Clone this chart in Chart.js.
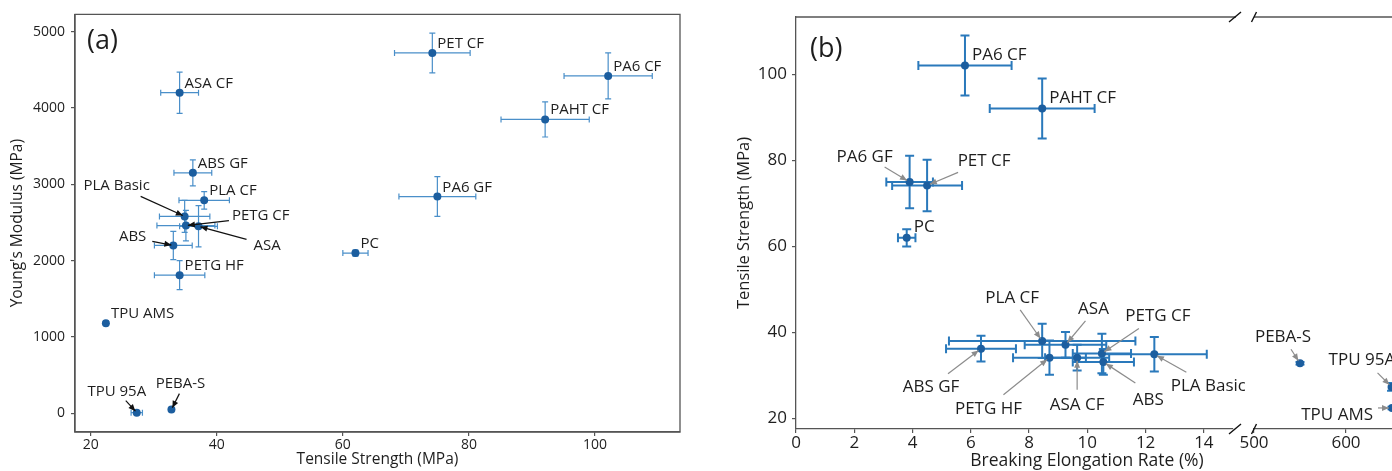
<!DOCTYPE html>
<html>
<head>
<meta charset="utf-8">
<script src="https://cdn.jsdelivr.net/npm/chart.js@4.4.1/dist/chart.umd.min.js"></script>
<style>
  html, body { margin: 0; padding: 0; background: #fff; overflow: hidden; }
  #wrap { position: relative; width: 1392px; height: 471px; overflow: hidden; }
  canvas { position: absolute; top: 0; }
</style>
</head>
<body>
<div id="wrap">
  <canvas id="chartA" width="715" height="471" style="left:0"></canvas>
  <canvas id="chartB1" width="530" height="471" style="left:715px"></canvas>
  <canvas id="chartB2" width="155" height="471" style="left:1237px"></canvas>
</div>
<script>
// values
const materials = ['PA6 CF', 'PAHT CF', 'PET CF', 'PA6 GF', 'PC', 'ASA CF', 'ABS GF', 'PLA CF',
                   'PLA Basic', 'PETG CF', 'ASA', 'ABS', 'PETG HF', 'TPU AMS', 'TPU 95A', 'PEBA-S'];
const tensile       = [102.1, 92.1, 74.2, 75.0, 62.0, 34.1, 36.2, 38.0, 34.9, 35.1, 37.1, 33.1, 34.1, 22.4, 27.3, 32.8];
const tensileErr    = [7.0, 7.0, 6.0, 6.1, 2.0, 3.0, 3.0, 4.0, 4.0, 4.6, 3.0, 3.0, 4.0, 0.3, 0.9, 0.3];
const modulus       = [4420, 3850, 4720, 2840, 2100, 4200, 3150, 2790, 2580, 2460, 2450, 2200, 1810, 1180, 10, 50];
const modulusErr    = [300, 230, 260, 260, 40, 270, 170, 115, 210, 200, 270, 185, 190, 20, 10, 10];
const elongation    = [5.8, 8.45, 4.5, 3.9, 3.8, 9.65, 6.35, 8.45, 12.3, 10.5, 9.25, 10.55, 8.7, 650, 649.5, 550];
const elongationErr = [1.6, 1.8, 1.2, 0.8, 0.3, 1.1, 1.2, 3.2, 1.8, 1.0, 1.4, 1.05, 1.25, 0, 0, 0];

const tensileTicks  = [20, 40, 60, 80, 100];
const modulusTicks  = [0, 1000, 2000, 3000, 4000, 5000];
const elongTicksLow = [0, 2, 4, 6, 8, 10, 12, 14];
const elongTicksHigh = [500, 600];

const FONT = '"Open Sans", "DejaVu Sans", sans-serif';
const pointColor = '#1c5e9f';
const axisColor = '#555';
const textColor = '#1e1e1e';

// label placement (pixel offsets from the marker), default goes up-right
const placeA = {
  'PLA Basic': { dx: -68, dy: -26, align: 'center', ax: -44, ay: -20 },
  'PETG CF':   { dx: 46, dy: -6, align: 'left', ax: 43, ay: -5 },
  'ASA':       { dx: 55, dy: 24, align: 'left', ax: 48, ay: 13 },
  'ABS':       { dx: -27, dy: -4, align: 'right', ax: -21, ay: -4 },
  'TPU 95A':   { dx: -20, dy: -17, align: 'center', ax: -11, ay: -12 },
  'PEBA-S':    { dx: 9, dy: -22, align: 'center', ax: 8, ay: -16 }
};
const placeB = {
  'PA6 GF':    { dx: -45, dy: -20, align: 'center', ax: -25, ay: -15 },
  'PET CF':    { dx: 57, dy: -19, align: 'center', ax: 31, ay: -13 },
  'PLA CF':    { dx: -30, dy: -38, align: 'center', ax: -22, ay: -31 },
  'ABS GF':    { dx: -50, dy: 43, align: 'center', ax: -33, ay: 25 },
  'PETG HF':   { dx: -61, dy: 56, align: 'center', ax: -46, ay: 37 },
  'ASA':       { dx: 28, dy: -31, align: 'center', ax: 20, ay: -24 },
  'PETG CF':   { dx: 56, dy: -32, align: 'center', ax: 37, ay: -25 },
  'ASA CF':    { dx: 0, dy: 52, align: 'center', ax: 0, ay: 32 },
  'ABS':       { dx: 45, dy: 43, align: 'center', ax: 32, ay: 21 },
  'PLA Basic': { dx: 54, dy: 37, align: 'center', ax: 32, ay: 18 },
  'PEBA-S':    { dx: -17, dy: -21, align: 'center', ax: -9, ay: -14 },
  'TPU 95A':   { dx: -63, dy: -22, align: 'left', ax: -14, ay: -14 },
  'TPU AMS':   { dx: -19, dy: 12, align: 'right', ax: -14, ay: 0 }
};

function fixedTicks(values) {
  return scale => { scale.ticks = values.map(v => ({ value: v })); };
}

// error bars + labels + arrows for a subset of materials
function markPlugin(idx, xs, ys, xErr, yErr, opt) {
  return {
    id: 'marks',
    beforeDatasetsDraw(chart) {
      const { ctx, scales: { x, y } } = chart;
      ctx.save();
      ctx.strokeStyle = opt.barColor;
      ctx.lineWidth = opt.barWidth;
      idx.forEach(i => {
        const px = x.getPixelForValue(xs[i]), py = y.getPixelForValue(ys[i]);
        const c = opt.cap;
        if (xErr[i] > 0) {
          const l = x.getPixelForValue(xs[i] - xErr[i]), r = x.getPixelForValue(xs[i] + xErr[i]);
          ctx.beginPath();
          ctx.moveTo(l, py); ctx.lineTo(r, py);
          ctx.moveTo(l, py - c); ctx.lineTo(l, py + c);
          ctx.moveTo(r, py - c); ctx.lineTo(r, py + c);
          ctx.stroke();
        }
        if (yErr[i] > 0) {
          const t = y.getPixelForValue(ys[i] + yErr[i]), b = y.getPixelForValue(ys[i] - yErr[i]);
          ctx.beginPath();
          ctx.moveTo(px, t); ctx.lineTo(px, b);
          ctx.moveTo(px - c, t); ctx.lineTo(px + c, t);
          ctx.moveTo(px - c, b); ctx.lineTo(px + c, b);
          ctx.stroke();
        }
      });
      ctx.restore();
    },
    afterDatasetsDraw(chart) {
      const { ctx, scales: { x, y } } = chart;
      ctx.save();
      ctx.font = opt.labelSize + 'px ' + FONT;
      ctx.fillStyle = textColor;
      ctx.textBaseline = 'alphabetic';
      idx.forEach(i => {
        const px = x.getPixelForValue(xs[i]), py = y.getPixelForValue(ys[i]);
        const p = opt.place[materials[i]] || opt.def;
        ctx.textAlign = p.align;
        ctx.fillText(materials[i], px + p.dx, py + p.dy);
        if (p.ax !== undefined) {
          const tx = px + p.ax, ty = py + p.ay;
          const ang = Math.atan2(py - ty, px - tx);
          const hx = px - Math.cos(ang) * opt.shrink, hy = py - Math.sin(ang) * opt.shrink;
          ctx.strokeStyle = opt.arrowColor;
          ctx.fillStyle = opt.arrowColor;
          ctx.lineWidth = 1.2;
          ctx.beginPath(); ctx.moveTo(tx, ty); ctx.lineTo(hx, hy); ctx.stroke();
          const L = 7, W = 3;
          ctx.beginPath();
          ctx.moveTo(hx, hy);
          ctx.lineTo(hx - L * Math.cos(ang) + W * Math.sin(ang), hy - L * Math.sin(ang) - W * Math.cos(ang));
          ctx.lineTo(hx - L * Math.cos(ang) - W * Math.sin(ang), hy - L * Math.sin(ang) + W * Math.cos(ang));
          ctx.closePath(); ctx.fill();
          ctx.fillStyle = textColor;
        }
      });
      ctx.restore();
    }
  };
}

// spines / break marks / panel letter / extra text
function framePlugin(opt) {
  return {
    id: 'frame',
    afterDraw(chart) {
      const { ctx, chartArea: a } = chart;
      ctx.save();
      ctx.strokeStyle = axisColor;
      ctx.lineWidth = 1.3;
      ctx.beginPath();
      if (opt.box) ctx.rect(a.left, a.top, a.right - a.left, a.bottom - a.top);
      if (opt.top) { ctx.moveTo(a.left, a.top); ctx.lineTo(a.right + (opt.topExt || 0), a.top); }
      ctx.stroke();
      if (opt.breakAt) {
        const bx = opt.breakAt === 'right' ? a.right + 2 : a.left;
        const s = opt.slant;
        ctx.strokeStyle = '#111';
        ctx.lineWidth = 1.4;
        [a.top, a.bottom].forEach(by => {
          ctx.beginPath(); ctx.moveTo(bx - s, by + 5); ctx.lineTo(bx + s, by - 5); ctx.stroke();
        });
      }
      ctx.fillStyle = textColor;
      if (opt.letter) {
        ctx.font = '27px ' + FONT;
        ctx.textAlign = 'left';
        ctx.textBaseline = 'alphabetic';
        ctx.fillText(opt.letter, a.left + opt.letterDx, a.top + opt.letterDy);
      }
      if (opt.xTitle) {
        ctx.font = opt.xTitleSize + 'px ' + FONT;
        ctx.textAlign = 'center';
        ctx.textBaseline = 'middle';
        ctx.fillText(opt.xTitle, a.left + opt.xTitleDx, opt.xTitleY);
      }
      ctx.restore();
    }
  };
}

function axisStyle(size, pad) {
  return {
    grid: { drawOnChartArea: false, tickLength: 4, color: axisColor, lineWidth: 1.2 },
    border: { color: axisColor, width: 1.3 },
    ticks: { font: { family: FONT, size: size }, color: textColor, padding: pad, callback: v => String(v) }
  };
}

const baseOptions = {
  responsive: false,
  animation: false,
  events: [],
  plugins: { legend: { display: false }, tooltip: { enabled: false } }
};

function pointsOf(idx, xs, ys) {
  return [{
    data: idx.map(i => ({ x: xs[i], y: ys[i] })),
    backgroundColor: pointColor,
    borderColor: pointColor,
    pointRadius: 4,
    borderWidth: 0,
    clip: false
  }];
}

// ---- panel (a) ----
const allIdx = materials.map((m, i) => i);
new Chart(document.getElementById('chartA'), {
  type: 'scatter',
  data: { datasets: pointsOf(allIdx, tensile, modulus) },
  options: Object.assign({}, baseOptions, {
    layout: { padding: { top: 12, right: 35, left: 0, bottom: 0 } },
    scales: {
      x: Object.assign(axisStyle(14, 1), {
        type: 'linear', min: 17.5, max: 113.5,
        afterBuildTicks: fixedTicks(tensileTicks),
        afterFit: s => { s.height = 39; },
        title: { display: true, text: 'Tensile Strength (MPa)', color: textColor,
                 font: { family: FONT, size: 15.5 }, padding: { top: 0, bottom: 2 } }
      }),
      y: Object.assign(axisStyle(14, 6), {
        type: 'linear', min: -243, max: 5225,
        afterBuildTicks: fixedTicks(modulusTicks),
        afterFit: s => { s.width = 75; },
        title: { display: true, text: "Young's Modulus (MPa)", color: textColor,
                 font: { family: FONT, size: 15.5 }, padding: { top: 8, bottom: 0 } }
      })
    }
  }),
  plugins: [
    markPlugin(allIdx, tensile, modulus, tensileErr, modulusErr, {
      barColor: '#4a8fc9', barWidth: 1.2, cap: 3, labelSize: 15, place: placeA,
      def: { dx: 5, dy: -5, align: 'left' }, arrowColor: '#111', shrink: 2
    }),
    framePlugin({ box: true, letter: '(a)', letterDx: 12, letterDy: 35 })
  ]
});

// ---- panel (b), broken x axis: two charts sharing the y range ----
const lowIdx = allIdx.filter(i => elongation[i] < 100);
const highIdx = allIdx.filter(i => elongation[i] >= 100);
const placeBOpt = {
  barColor: '#2a79bb', barWidth: 2, cap: 4.5, labelSize: 17, place: placeB,
  def: { dx: 7, dy: -6, align: 'left' }, arrowColor: '#8c8c8c', shrink: 3
};

new Chart(document.getElementById('chartB1'), {
  type: 'scatter',
  data: { datasets: pointsOf(lowIdx, elongation, tensile) },
  options: Object.assign({}, baseOptions, {
    layout: { padding: { top: 17, right: 12, left: 0, bottom: 0 } },
    scales: {
      x: Object.assign(axisStyle(17, 0), {
        type: 'linear', min: 0, max: 15,
        afterBuildTicks: fixedTicks(elongTicksLow),
        afterFit: s => { s.height = 42; }
      }),
      y: Object.assign(axisStyle(17, 5), {
        type: 'linear', min: 17.5, max: 113.4,
        afterBuildTicks: fixedTicks(tensileTicks),
        afterFit: s => { s.width = 81; },
        title: { display: true, text: 'Tensile Strength (MPa)', color: textColor,
                 font: { family: FONT, size: 16.5 }, padding: { top: 19, bottom: 0 } }
      })
    }
  }),
  plugins: [
    markPlugin(lowIdx, elongation, tensile, elongationErr, tensileErr, placeBOpt),
    framePlugin({ top: true, topExt: 3, breakAt: 'right', slant: 6, letter: '(b)', letterDx: 14, letterDy: 40,
                  xTitle: 'Breaking Elongation Rate (%)', xTitleSize: 17.5, xTitleDx: 291, xTitleY: 461 })
  ]
});

new Chart(document.getElementById('chartB2'), {
  type: 'scatter',
  data: { datasets: pointsOf(highIdx, elongation, tensile) },
  options: Object.assign({}, baseOptions, {
    layout: { autoPadding: false, padding: { top: 17, right: 0, left: 17, bottom: 0 } },
    scales: {
      x: Object.assign(axisStyle(17, 0), {
        type: 'linear', min: 500, max: 650,
        afterBuildTicks: fixedTicks(elongTicksHigh),
        afterFit: s => { s.height = 42; }
      }),
      y: { type: 'linear', display: false, min: 17.5, max: 113.4 }
    }
  }),
  plugins: [
    markPlugin(highIdx, elongation, tensile, elongationErr, tensileErr, placeBOpt),
    framePlugin({ top: true, breakAt: 'left', slant: 2.5 })
  ]
});
</script>
</body>
</html>
